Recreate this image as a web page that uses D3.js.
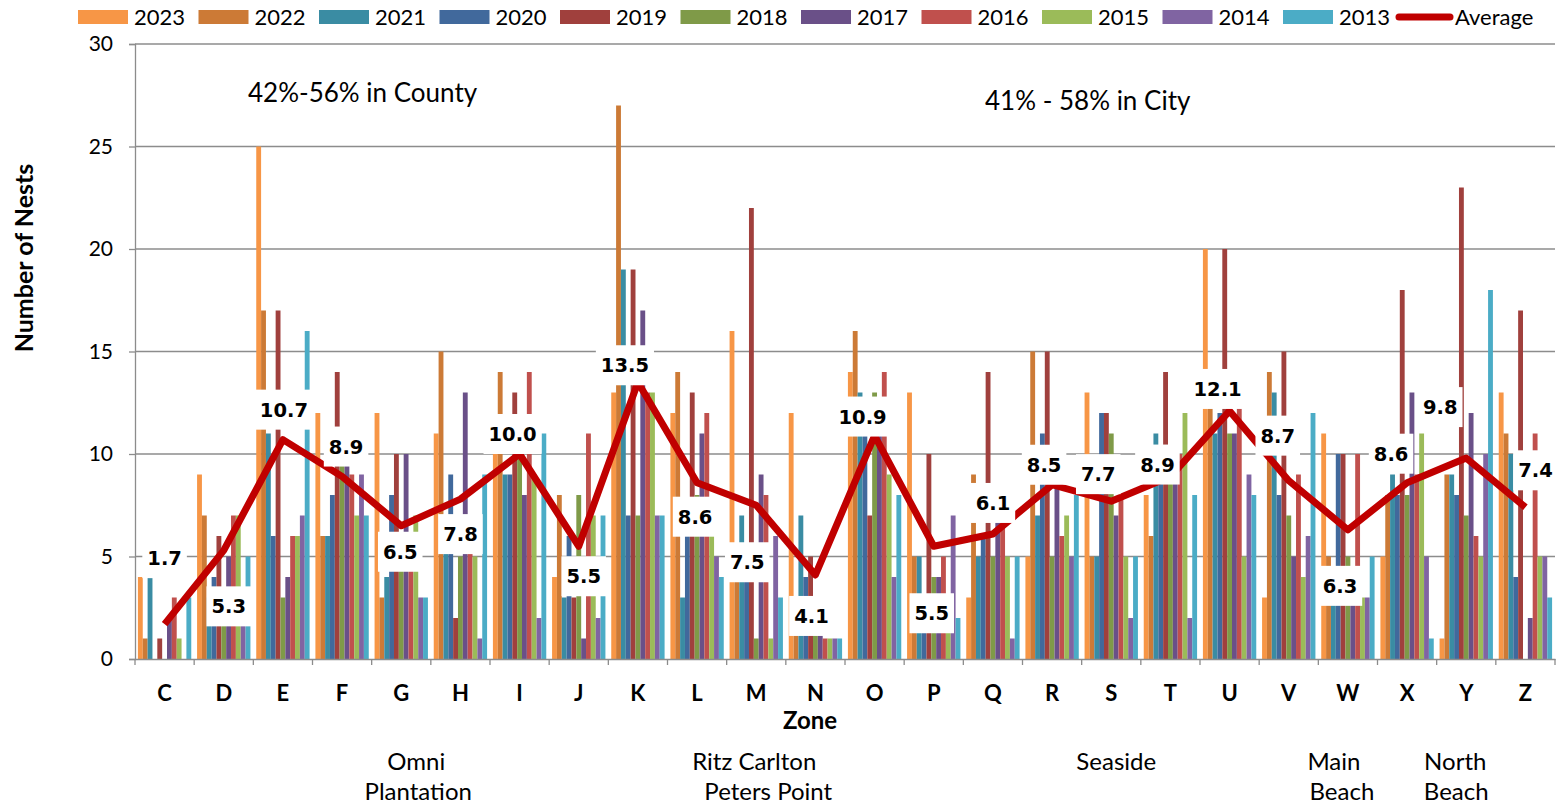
<!DOCTYPE html>
<html lang="en">
<head>
<meta charset="utf-8">
<script src="https://d3js.org/d3.v7.min.js"></script>
<style>
  body { margin: 0; background: #ffffff; }
  text { font-family: Lato, "Open Sans", sans-serif; fill: #000; }
  .val { font-family: "DejaVu Sans", Verdana, sans-serif; font-weight: bold; }
</style>
</head>
<body>
<script>

// ---------- DATA ----------
var zones = ["C","D","E","F","G","H","I","J","K","L","M","N","O","P","Q","R","S","T","U","V","W","X","Y","Z"];
var years = ["2023","2022","2021","2020","2019","2018","2017","2016","2015","2014","2013"];

var nests2023 = [4, 9,25,12,12,11,10, 4,13,12,16,12,14,13, 3, 5,13, 8,20, 3,11, 5, 1,13];
var nests2022 = [1, 7,17, 6, 3,15,14, 8,27,14, 5, 3,16, 5, 9,15, 5, 6,13,14, 5, 8, 9,11];
var nests2021 = [4, 3,11, 6, 4, 7, 9, 3,19, 3, 7, 7,13, 5, 5, 7, 5,11,11,13, 3, 9, 9,10];
var nests2020 = [0, 4, 6, 8, 8, 9, 9, 6, 7, 6, 4, 4,11, 3, 6,11,12, 9,12, 8,10, 8, 8, 4];
var nests2019 = [1, 6,17,14,10, 2,13, 3,19,13,22, 5, 7,10,14,15,12,14,20,15,10,18,23,17];
var nests2018 = [0, 3, 3,10, 6, 5,10, 8, 7, 8, 1, 3,13, 4, 5, 5,11, 9,11, 7, 5, 8, 7, 0];
var nests2017 = [2, 5, 4,10,10,13, 8, 1,17,11, 9, 3,11, 4, 7, 9, 7, 9,11, 5, 4,13,12, 2];
var nests2016 = [3, 7, 6, 9, 6, 7,14,11,13,12, 8, 1,14, 5, 7, 6, 8,10,13, 9,10, 9, 6,11];
var nests2015 = [1, 7, 6, 7, 7, 5, 9, 7,13, 7, 1, 1, 9, 3, 5, 7, 5,12, 5, 4, 3,11, 5, 5];
var nests2014 = [0, 2, 7, 9, 3, 1, 2, 2, 7, 5, 6, 1, 4, 7, 1, 5, 2, 2, 9, 6, 3, 5,10, 5];
var nests2013 = [3, 5,16, 7, 3, 9,11, 7, 7, 4, 3, 1, 8, 2, 5, 8, 5, 8, 8,12, 5, 1,18, 3];

var average = [1.7,5.3,10.7,8.9,6.5,7.8,10.0,5.5,13.5,8.6,7.5,4.1,10.9,5.5,6.1,8.5,7.7,8.9,12.1,8.7,6.3,8.6,9.8,7.4];

var yTicks = [0,5,10,15,20,25,30];

// ---------- LAYOUT / STYLE ----------
var colors = ["#F79646","#CC7A36","#3A8CA3","#41699C","#A0403D","#7F9A48",
              "#6A5088","#C0504D","#9BBB59","#8064A2","#4BACC6"];
var avgColor = "#C00000";

// where each average label sits relative to its point (px)
var labelNudge = [[0,-66],[5,56],[1,-30],[4,-30],[-1,26],[0,35],[-7,-20],[5,30],
                  [-13,-17],[-2,34],[-9,57],[-4,41],[-12,-19],[-2,67],[0,-31],[-8,-20],
                  [-13,-27],[-13,-12],[-12,-22],[-11,-45],[-8,56],[-16,-29],[-26,-51],[10,-37]];

var seriesValues = [nests2023,nests2022,nests2021,nests2020,nests2019,nests2018,
                    nests2017,nests2016,nests2015,nests2014,nests2013];

var svg = d3.select("body").append("svg")
            .attr("width", 1558)
            .attr("height", 807);

// plot box (note: "top" is taken by window.top, so use other names)
var plotL = 135, plotR = 1555, plotT = 44, plotB = 659;

var x0 = d3.scaleBand().domain(zones).range([plotL, plotR]);
var x1 = d3.scaleBand().domain(years).range([0, x0.bandwidth()]).paddingOuter(0.6);
var y = d3.scaleLinear().domain([0, 30]).range([plotB, plotT]);

// gridlines
svg.append("g").selectAll("line")
   .data(yTicks.filter(function(d){ return d > 0; }))
   .enter().append("line")
   .attr("x1", plotL).attr("x2", plotR)
   .attr("y1", function(d){ return y(d); }).attr("y2", function(d){ return y(d); })
   .attr("stroke", "#8c8c8c").attr("stroke-width", 1.3);

// y axis
var yAxis = svg.append("g")
   .attr("transform", "translate(" + plotL + ",0)")
   .call(d3.axisLeft(y).tickValues(yTicks).tickSize(6).tickPadding(16));
yAxis.select(".domain").attr("stroke", "#8c8c8c").attr("stroke-width", 1.3);
yAxis.selectAll(".tick line").attr("stroke", "#8c8c8c").attr("stroke-width", 1.3);
yAxis.selectAll("text").style("font-family", "Lato, sans-serif").style("font-size", "21px").attr("fill", "#000");

// bars
var groups = svg.append("g").selectAll("g")
   .data(zones)
   .enter().append("g")
   .attr("transform", function(d){ return "translate(" + x0(d) + ",0)"; });

groups.selectAll("rect")
   .data(function(z, zi){ return years.map(function(yr, si){ return {year: yr, si: si, v: seriesValues[si][zi]}; }); })
   .enter().append("rect")
   .attr("x", function(d){ return x1(d.year); })
   .attr("width", x1.bandwidth())
   .attr("y", function(d){ return y(d.v); })
   .attr("height", function(d){ return plotB - y(d.v); })
   .attr("fill", function(d){ return colors[d.si]; });

// x axis
var xAxis = svg.append("g")
   .attr("transform", "translate(0," + plotB + ")")
   .call(d3.axisBottom(x0).tickSize(0).tickPadding(26));
xAxis.select(".domain").attr("stroke", "#8c8c8c").attr("stroke-width", 1.3);
xAxis.selectAll("text").style("font-family", "Lato, sans-serif").style("font-size", "22px")
     .style("font-weight", "bold").attr("fill", "#000");
// tick marks on zone boundaries
svg.append("g").selectAll("line")
   .data(zones.concat(["end"]))
   .enter().append("line")
   .attr("x1", function(d, i){ return plotL + i * x0.bandwidth(); })
   .attr("x2", function(d, i){ return plotL + i * x0.bandwidth(); })
   .attr("y1", plotB).attr("y2", plotB + 6)
   .attr("stroke", "#8c8c8c").attr("stroke-width", 1.3);

// average line
var cx = function(i){ return x0(zones[i]) + x0.bandwidth() / 2; };
svg.append("path")
   .datum(average)
   .attr("d", d3.line().x(function(d, i){ return cx(i); }).y(function(d){ return y(d); }))
   .attr("fill", "none")
   .attr("stroke", avgColor)
   .attr("stroke-width", 7)
   .attr("stroke-linejoin", "round");

// average labels with white boxes
var labels = svg.append("g").selectAll("g")
   .data(average)
   .enter().append("g")
   .attr("transform", function(d, i){
       return "translate(" + (cx(i) + labelNudge[i][0]) + "," + (y(d) + labelNudge[i][1]) + ")"; });
labels.append("rect").attr("fill", "#fff");
labels.append("text")
   .attr("class", "val")
   .attr("text-anchor", "middle")
   .attr("dy", "0.36em")
   .style("font-size", "19.5px")
   .text(function(d){ return d.toFixed(1); });
labels.each(function(){
   var g = d3.select(this);
   var w = g.select("text").node().getComputedTextLength() + 10;
   g.select("rect").attr("x", -w / 2).attr("y", -20).attr("width", w).attr("height", 40);
});

// legend
var legend = svg.append("g");
years.forEach(function(yr, i){
   var lx = 78 + i * 120.5;
   legend.append("rect").attr("x", lx).attr("y", 10).attr("width", 50).attr("height", 14).attr("fill", colors[i]);
   legend.append("text").attr("x", lx + 56).attr("y", 25).style("font-size", "22px").text(yr);
});
legend.append("line").attr("x1", 1399).attr("x2", 1450).attr("y1", 17).attr("y2", 17)
   .attr("stroke", avgColor).attr("stroke-width", 7).attr("stroke-linecap", "round");
legend.append("text").attr("x", 1455).attr("y", 25).style("font-size", "22px").text("Average");

// axis titles
svg.append("text")
   .attr("transform", "translate(33,258) rotate(-90)")
   .attr("text-anchor", "middle")
   .style("font-size", "25px").style("font-weight", "bold")
   .text("Number of Nests");
svg.append("text")
   .attr("x", 810).attr("y", 729)
   .attr("text-anchor", "middle")
   .style("font-size", "24px").style("font-weight", "bold")
   .text("Zone");

// annotations
svg.append("text").attr("x", 248).attr("y", 102).style("font-size", "26px").text("42%-56% in County");
svg.append("text").attr("x", 985).attr("y", 110).style("font-size", "26px").text("41% - 58% in City");

// beach names under the axis
var areaNames = [
  {zone: "G", dx: 15, text: "Omni", row: 0},
  {zone: "G", dx: 17, text: "Plantation", row: 1},
  {zone: "M", dx: -2, text: "Ritz Carlton", row: 0},
  {zone: "M", dx: 12, text: "Peters Point", row: 1},
  {zone: "S", dx: 5, text: "Seaside", row: 0},
  {zone: "W", dx: -14, text: "Main", row: 0},
  {zone: "W", dx: -6, text: "Beach", row: 1},
  {zone: "Y", dx: -11, text: "North", row: 0},
  {zone: "Y", dx: -10, text: "Beach", row: 1}
];
svg.append("g").selectAll("text")
   .data(areaNames)
   .enter().append("text")
   .attr("x", function(d){ return x0(d.zone) + x0.bandwidth() / 2 + d.dx; })
   .attr("y", function(d){ return 770 + d.row * 30; })
   .attr("text-anchor", "middle")
   .style("font-size", "24px")
   .text(function(d){ return d.text; });

</script>
</body>
</html>
